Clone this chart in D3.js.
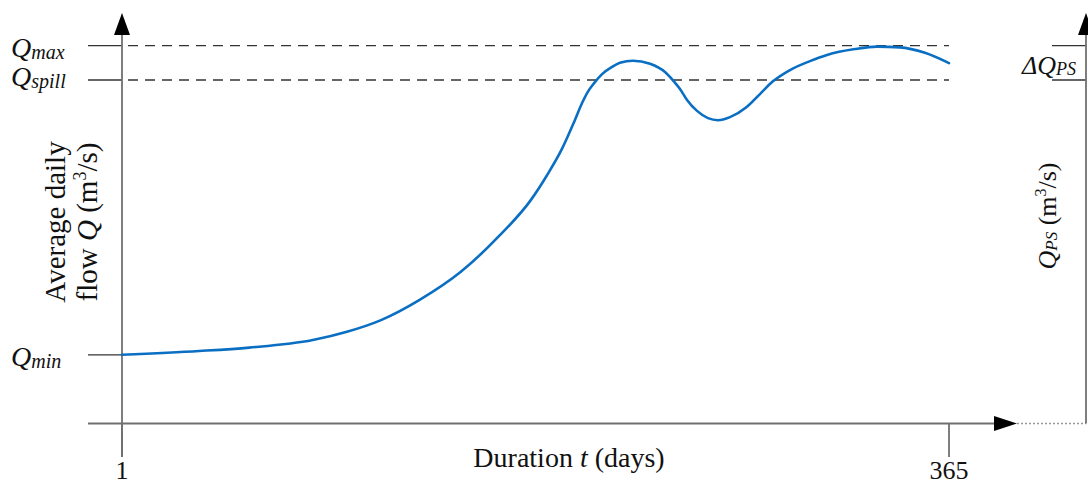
<!DOCTYPE html>
<html>
<head>
<meta charset="utf-8">
<script src="https://cdn.jsdelivr.net/npm/d3@7"></script>
<style>
  html, body { margin: 0; padding: 0; background: #fff; }
  svg { display: block; }
  text { font-family: "Liberation Serif", "Times New Roman", serif; fill: #111; }
</style>
</head>
<body>
<svg id="chart" width="1088" height="486"></svg>
<script>
// Flow duration curve: day of the year (sorted) vs. average daily flow
const days = [1, 35, 57, 85, 100, 115, 132, 150, 167, 181, 188, 194.7, 200, 203.5, 205.7, 208.8, 212.3, 216.7, 220.2, 225.9, 233.4, 240, 243.5, 246.6, 249.7, 254.1, 258.9, 263.3, 268.6, 276.1, 281.8, 287.5, 295, 303.8, 311.3, 323.6, 333.3, 343.4, 354.4, 365];
const flow = [20, 21.1, 22.1, 24.3, 26.7, 30.1, 36.0, 44.1, 54.6, 65.1, 72.2, 80.0, 87.8, 93.3, 96.2, 99.1, 101.7, 103.8, 105.0, 105.6, 104.7, 102.3, 99.9, 97.4, 94.2, 91.0, 88.9, 88.3, 89.2, 92.2, 95.9, 99.6, 102.9, 105.5, 107.3, 109.0, 109.7, 109.5, 107.9, 104.9];

// Reference flow levels
const levelNames = ["max", "spill", "min"];
const levelValues = [110, 100, 20];
const tickLabels = ["1", "365"];
const tickDays = [1, 365];
const axisTop = 119.5;

const svg = d3.select("#chart");
const x = d3.scaleLinear().domain([1, 365]).range([122, 949]);
const y = d3.scaleLinear().domain([0, axisTop]).range([423.5, 13]);

const axisColor = "#707070";
const x0 = x(1), yBase = y(0);
const xLeftEnd = 88, xArrowTip = 1017, xRight = 1086;

// Horizontal reference lines: solid stub left of the axis, dashed across the plot
levelNames.forEach((n, i) => {
  const yy = y(levelValues[i]);
  svg.append("line").attr("x1", xLeftEnd).attr("x2", x0).attr("y1", yy).attr("y2", yy)
    .attr("stroke", "#333").attr("stroke-width", 1.3);
  if (n !== "min") {
    svg.append("line").attr("x1", x0 + 6).attr("x2", x(365)).attr("y1", yy).attr("y2", yy)
      .attr("stroke", "#333").attr("stroke-width", 1.3).attr("stroke-dasharray", "10,7");
    // right-hand bracket ticks
    svg.append("line").attr("x1", 1052).attr("x2", xRight).attr("y1", yy).attr("y2", yy)
      .attr("stroke", "#333").attr("stroke-width", 1.3);
  }
});

// Left vertical axis
svg.append("line").attr("x1", x0).attr("x2", x0).attr("y1", 457).attr("y2", y(axisTop) + 18)
  .attr("stroke", axisColor).attr("stroke-width", 1.8);
svg.append("path")
  .attr("d", `M${x0},${y(axisTop)} L${x0 - 8},${y(axisTop) + 22} L${x0 + 8},${y(axisTop) + 22} Z`)
  .attr("fill", "#000");

// Bottom axis
svg.append("line").attr("x1", xLeftEnd).attr("x2", xArrowTip - 20).attr("y1", yBase).attr("y2", yBase)
  .attr("stroke", axisColor).attr("stroke-width", 1.8);
svg.append("path")
  .attr("d", `M${xArrowTip},${yBase} L${xArrowTip - 23},${yBase - 7.5} L${xArrowTip - 23},${yBase + 7.5} Z`)
  .attr("fill", "#000");
svg.append("line").attr("x1", xArrowTip).attr("x2", xRight).attr("y1", yBase).attr("y2", yBase)
  .attr("stroke", "#999").attr("stroke-width", 1.5).attr("stroke-dasharray", "2,2");

// Right vertical axis
svg.append("line").attr("x1", xRight).attr("x2", xRight).attr("y1", yBase).attr("y2", y(axisTop) + 18)
  .attr("stroke", axisColor).attr("stroke-width", 1.8);
svg.append("path")
  .attr("d", `M${xRight},${y(axisTop)} L${xRight - 8},${y(axisTop) + 22} L${xRight + 8},${y(axisTop) + 22} Z`)
  .attr("fill", "#000");

// Day ticks and labels
tickDays.forEach((d, i) => {
  svg.append("line").attr("x1", x(d)).attr("x2", x(d)).attr("y1", yBase).attr("y2", 457)
    .attr("stroke", axisColor).attr("stroke-width", 1.8);
  svg.append("text").attr("x", x(d)).attr("y", 479).attr("text-anchor", "middle")
    .attr("font-size", 26).text(tickLabels[i]);
});

// Flow curve
const line = d3.line()
  .x((d, i) => x(days[i]))
  .y((d, i) => y(flow[i]))
  .curve(d3.curveMonotoneX);
svg.append("path").datum(flow).attr("d", line)
  .attr("fill", "none").attr("stroke", "#0a6fc2").attr("stroke-width", 2.6)
  .attr("stroke-linejoin", "round").attr("stroke-linecap", "round");

// Level labels on the left
function qLabel(g, sub, subSize) {
  g.append("tspan").attr("font-style", "italic").attr("font-size", 28).text("Q");
  g.append("tspan").attr("font-style", "italic").attr("font-size", subSize).attr("dy", 2).text(sub);
}
levelNames.forEach((n, i) => {
  const t = svg.append("text").attr("x", 11).attr("y", y(levelValues[i]) + (n === "spill" ? 6 : 11));
  qLabel(t, n, 20);
});

// ΔQ_PS label
const dq = svg.append("text").attr("x", 1076).attr("y", 74).attr("text-anchor", "end");
dq.append("tspan").attr("font-style", "italic").attr("font-size", 26).text("\u0394Q");
dq.append("tspan").attr("font-style", "italic").attr("font-size", 18).attr("dy", 1).text("PS");

// Bottom axis title
const xt = svg.append("text").attr("x", 569).attr("y", 467).attr("text-anchor", "middle").attr("font-size", 28);
xt.append("tspan").text("Duration ");
xt.append("tspan").attr("font-style", "italic").text("t");
xt.append("tspan").text(" (days)");

// Left axis title (two lines)
const lt = svg.append("g").attr("transform", "translate(0,222) rotate(-90)");
lt.append("text").attr("x", 0).attr("y", 65).attr("text-anchor", "middle").attr("font-size", 29).text("Average daily");
const l2 = lt.append("text").attr("x", 0).attr("y", 97).attr("text-anchor", "middle").attr("font-size", 29);
l2.append("tspan").text("flow ");
l2.append("tspan").attr("font-style", "italic").text("Q");
l2.append("tspan").text(" (m");
l2.append("tspan").attr("font-size", 18).attr("dy", -11).text("3");
l2.append("tspan").attr("dy", 11).text("/s)");

// Right axis title
const rt = svg.append("g").attr("transform", "translate(0,216) rotate(-90)");
const r1 = rt.append("text").attr("x", 0).attr("y", 1056).attr("text-anchor", "middle").attr("font-size", 26);
r1.append("tspan").attr("font-style", "italic").text("Q");
r1.append("tspan").attr("font-style", "italic").attr("font-size", 17).attr("dy", 1).text("PS");
r1.append("tspan").attr("dy", -1).text(" (m");
r1.append("tspan").attr("font-size", 16).attr("dy", -10).text("3");
r1.append("tspan").attr("dy", 10).text("/s)");
</script>
</body>
</html>
